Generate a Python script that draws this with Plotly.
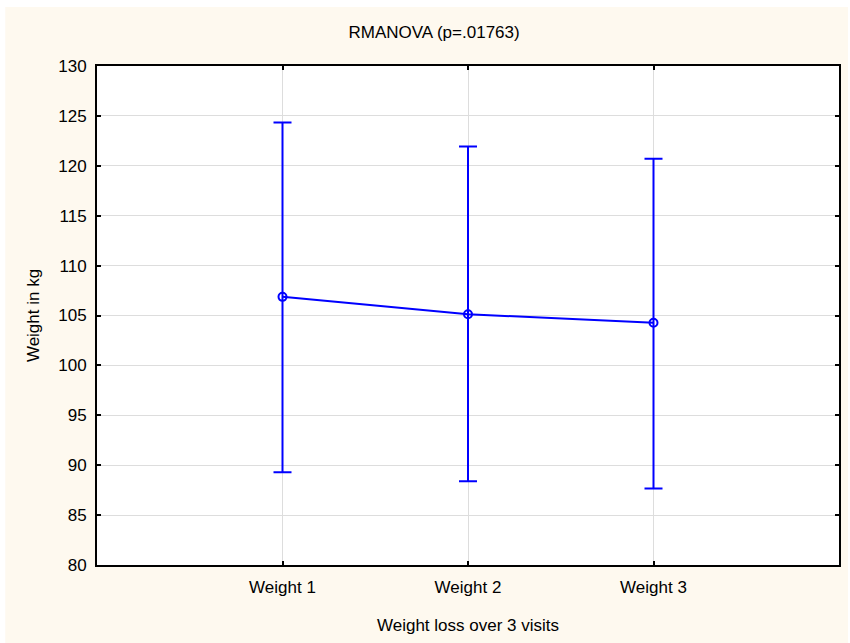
import plotly.graph_objects as go

categories = ["Weight 1", "Weight 2", "Weight 3"]
means = [106.87, 105.13, 104.27]
ci_high = [124.33, 121.93, 120.70]
ci_low = [89.30, 88.40, 87.67]
y_ticks = [80, 85, 90, 95, 100, 105, 110, 115, 120, 125, 130]

x_pos = [1, 2, 3]
err_plus = [h - m for h, m in zip(ci_high, means)]
err_minus = [m - l for m, l in zip(means, ci_low)]

FONT = "Liberation Sans, Arial, sans-serif"
FS = 17
BLUE = "#0000FF"
CREAM = "#FEF9EF"

fig = go.Figure()
fig.add_trace(go.Scatter(
    x=x_pos, y=means, mode="lines+markers",
    line=dict(color=BLUE, width=2),
    marker=dict(symbol="circle-open", size=8, color=BLUE, line=dict(width=2, color=BLUE)),
    error_y=dict(type="data", symmetric=False, array=err_plus, arrayminus=err_minus,
                 color=BLUE, thickness=2, width=9),
    showlegend=False,
))

L, R, T, B = 97, 9, 66, 78
W, H = 850, 643
pw, ph = W - L - R, H - T - B

# cream panel background (white strip at top and left edges)
fig.add_shape(type="rect", xref="paper", yref="paper", layer="below",
              x0=(5 - L) / pw, x1=(W - L) / pw,
              y0=(H - B - H) / ph, y1=(H - B - 7) / ph,
              fillcolor=CREAM, line=dict(width=0))
# white plotting area
fig.add_shape(type="rect", xref="paper", yref="paper", layer="below",
              x0=0, x1=1, y0=0, y1=1,
              fillcolor="white", line=dict(width=0))

fig.update_layout(
    width=W, height=H,
    margin=dict(l=L, r=R, t=T, b=B),
    paper_bgcolor="white", plot_bgcolor="white",
    font=dict(family=FONT, size=FS, color="black"),
    title=dict(text="RMANOVA (p=.01763)", x=(435 - L) / pw, xref="paper", xanchor="center",
               y=1 - 32 / H, yanchor="middle", font=dict(size=FS, family=FONT, color="black")),
)
fig.update_xaxes(
    range=[0, 4], tickmode="array", tickvals=x_pos, ticktext=categories,
    showline=True, linecolor="black", linewidth=2, mirror="allticks",
    ticks="inside", ticklen=4, tickcolor="black", tickwidth=2, ticklabelstandoff=6,
    showgrid=True, gridcolor="#DDDDDD", gridwidth=1, zeroline=False,
    tickfont=dict(size=FS, family=FONT),
    title=dict(text="Weight loss over 3 visits", font=dict(size=FS, family=FONT), standoff=23),
)
fig.update_yaxes(
    range=[80, 130], tickmode="array", tickvals=y_ticks,
    showline=True, linecolor="black", linewidth=2, mirror="allticks",
    ticks="inside", ticklen=4, tickcolor="black", tickwidth=2, ticklabelstandoff=5,
    showgrid=True, gridcolor="#DDDDDD", gridwidth=1, zeroline=False,
    tickfont=dict(size=FS, family=FONT),
    title=dict(text="Weight in kg", font=dict(size=FS, family=FONT), standoff=14),
)

fig.write_html("out.html")
